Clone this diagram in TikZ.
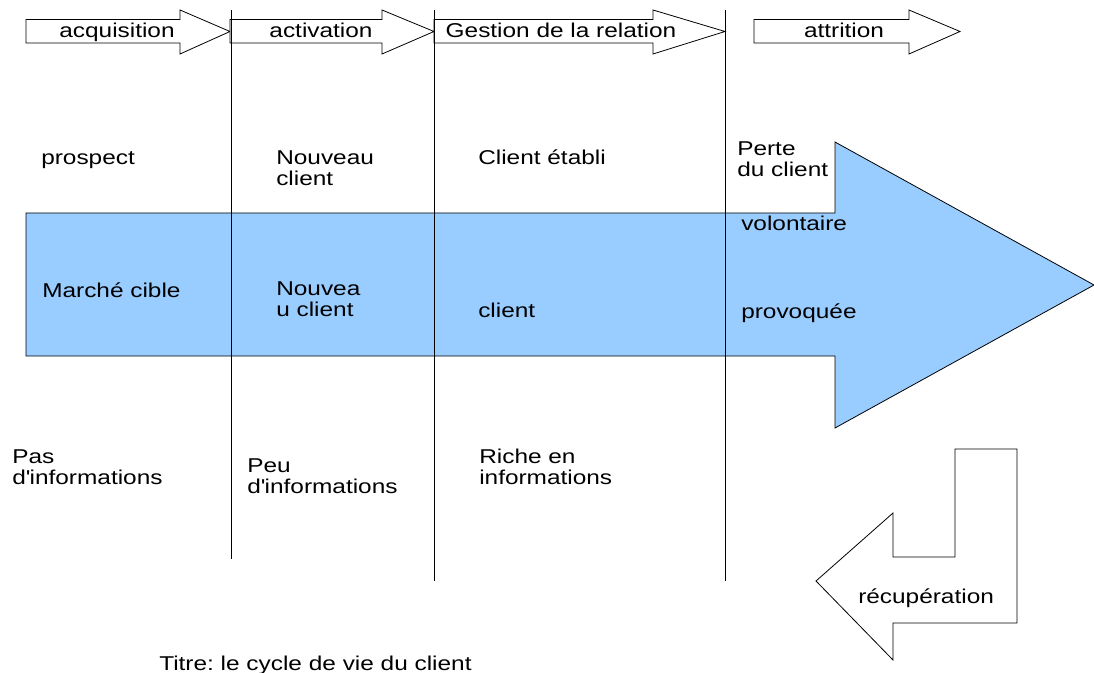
\documentclass[tikz,border=0pt]{standalone}
\usepackage{fontspec}
\setmainfont[FakeStretch=1.22]{Liberation Sans}
\definecolor{lifeblue}{HTML}{99CCFF}
\frenchspacing
\begin{document}
\begin{tikzpicture}[x=0.75pt,y=-0.75pt,
  txt/.style={inner sep=0pt, anchor=base west, align=left,
    font=\fontsize{15pt}{15.75pt}\selectfont},
  ctxt/.style={inner sep=0pt, anchor=base,
    font=\fontsize{15pt}{15.75pt}\selectfont},
  outline/.style={draw=black, line width=0.6pt, line join=miter},
  divider/.style={draw=black, line width=0.6pt}]
\useasboundingbox (0,0) rectangle (1094,673);

% big life-cycle arrow
\path[outline, fill=lifeblue] (26,213) -- (835,213) -- (835,142) -- (1094,285)
  -- (835,428) -- (835,356) -- (26,356) -- cycle;

% phase arrows
\path[outline, fill=white] (26,19.5) -- (180,19.5) -- (180,10) -- (230,31.5)
  -- (180,54) -- (180,43) -- (26,43) -- cycle;
\path[outline, fill=white] (230,19.5) -- (382,19.5) -- (382,10) -- (434,31.5)
  -- (382,54) -- (382,43) -- (230,43) -- cycle;
\path[outline, fill=white] (434,19.5) -- (653,19.5) -- (653,10) -- (725,31.5)
  -- (653,54) -- (653,43) -- (434,43) -- cycle;
\path[outline, fill=white] (754,19.5) -- (909,19.5) -- (909,10) -- (960,31.5)
  -- (909,54) -- (909,43) -- (754,43) -- cycle;

% recovery arrow
\path[outline, fill=white] (955,449) -- (1017,449) -- (1017,623) -- (893,623)
  -- (893,660) -- (816,581) -- (893,513) -- (893,557) -- (955,557) -- cycle;

% dividers
\coordinate (d1t) at (231,10);  \coordinate (d1b) at (231,559);
\coordinate (d2t) at (434,10);  \coordinate (d2b) at (434,581);
\coordinate (d3t) at (725,10);  \coordinate (d3b) at (725,581);
\draw[divider] (d1t) -- (d1b);
\draw[divider] (d2t) -- (d2b);
\draw[divider] (d3t) -- (d3b);

% phase labels
\node[ctxt] (acq) at (117,38) {acquisition};
\node[ctxt] (act) at (321,38) {activation};
\node[ctxt] (ges) at (561,38) {Gestion de la relation};
\node[ctxt] (att) at (844,38) {attrition};

% row 1 (multi-line nodes: base = last line)
\node[txt] (pro) at (41,165) {prospect};
\node[txt] (nou) at (276,185.5) {Nouveau\\client};
\node[txt] (eta) at (478,165) {Client établi};
\node[txt] (per) at (737,176.5) {Perte\\du client};

% row 2
\node[txt] (vol) at (741,230.5) {volontaire};
\node[txt] (mar) at (42,297.5) {Marché cible};
\node[txt] (nou2) at (276,316) {Nouvea\\u client};
\node[txt] (cli) at (478,317.5) {client};
\node[txt] (pvq) at (741,318) {provoquée};

% row 3
\node[txt] (pas) at (12,484) {Pas\\d\textquotesingle informations};
\node[txt] (peu) at (247,493.5) {Peu\\d\textquotesingle informations};
\node[txt] (ric) at (479,484) {Riche en\\informations};

\node[txt] (rec) at (858,603) {récupération};
\node[txt] (tit) at (159,670) {Titre: le cycle de vie du client};
\end{tikzpicture}
\end{document}
